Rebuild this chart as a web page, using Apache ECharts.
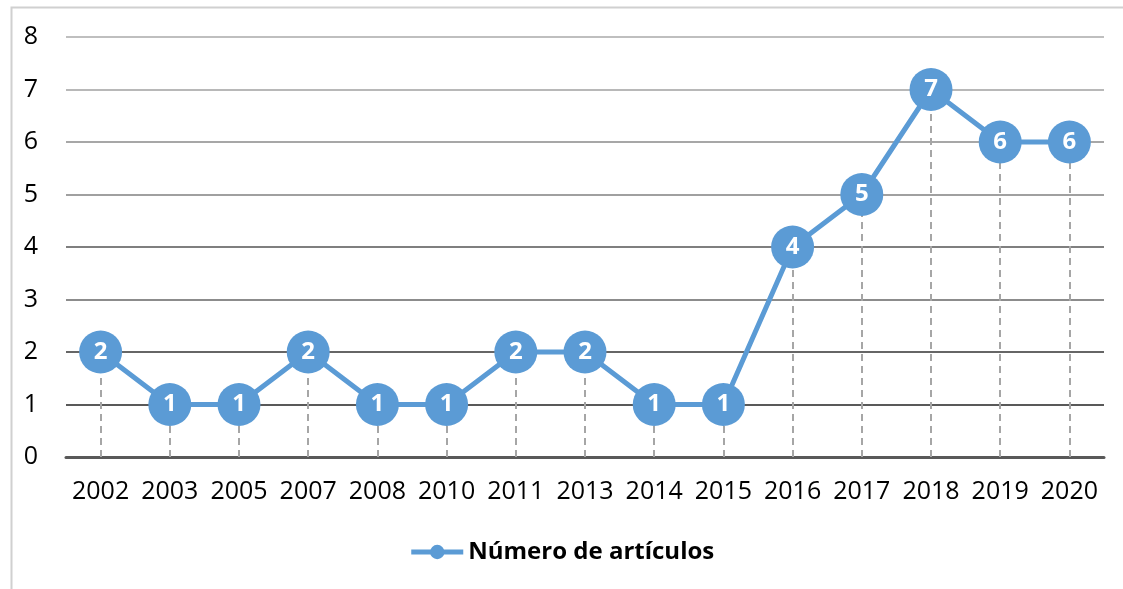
<!DOCTYPE html>
<html>
<head>
<meta charset="utf-8">
<script src="https://cdn.jsdelivr.net/npm/echarts@6/dist/echarts.min.js"></script>
<style>
html,body{margin:0;padding:0;background:#fff;}
#c{width:1123px;height:589px;}
</style>
</head>
<body>
<div id="c"></div>
<script>
const years = ['2002','2003','2005','2007','2008','2010','2011','2013','2014','2015','2016','2017','2018','2019','2020'];
const articles = [2,1,1,2,1,1,2,2,1,1,4,5,7,6,6];
const yTicks = [0,1,2,3,4,5,6,7,8];
const seriesName = 'Número de artículos';

const dropLines = articles.map((v, i) => [
  {coord: [i, 0]},
  {coord: [i, v]}
]);

const chart = echarts.init(document.getElementById('c'), null, {renderer: 'canvas'});
chart.setOption({
  animation: false,
  backgroundColor: '#fff',
  textStyle: {fontFamily: 'Open Sans'},
  graphic: [{
    type: 'rect', left: 9, top: 5, z: -1,
    shape: {width: 1200, height: 700},
    style: {fill: 'none', stroke: '#d0d0d0', lineWidth: 2}
  }],
  grid: {left: 66, right: 19, top: 37, bottom: 132, containLabel: false},
  legend: {
    top: 535, left: 'center',
    itemWidth: 52, itemHeight: 18, itemGap: 3,
    lineStyle: {width: 5},
    textStyle: {fontFamily: 'Open Sans', fontWeight: 'bold', fontSize: 24, color: '#000'},
    data: [seriesName]
  },
  xAxis: {
    type: 'category', data: years, boundaryGap: true,
    axisLine: {lineStyle: {color: '#595959', width: 3}},
    axisTick: {show: false},
    axisLabel: {fontFamily: 'Open Sans', fontSize: 25, color: '#000', margin: 22, interval: 0},
    splitLine: {show: false}
  },
  yAxis: {
    type: 'value', min: yTicks[0], max: yTicks[yTicks.length - 1], interval: 1,
    axisLine: {show: false}, axisTick: {show: false},
    axisLabel: {fontFamily: 'Open Sans', fontSize: 25, color: '#000', margin: 28},
    splitLine: {lineStyle: {width: 1.5, color: ['#595959','#222','#333','#666','#555','#808080','#8a8a8a','#a0a0a0','#aaaaaa']}}
  },
  series: [{
    name: seriesName,
    type: 'line',
    data: articles,
    symbol: 'circle', symbolSize: 43,
    lineStyle: {color: '#5B9BD5', width: 5},
    itemStyle: {color: '#5B9BD5'},
    label: {
      show: true, position: 'inside', color: '#fff',
      fontFamily: 'Open Sans', fontWeight: 'bold', fontSize: 24
    },
    markLine: {
      silent: true, symbol: ['none','none'], z: 1,
      label: {show: false},
      lineStyle: {color: '#a6a6a6', type: [7,5], width: 2},
      data: dropLines
    }
  }]
});
</script>
</body>
</html>
